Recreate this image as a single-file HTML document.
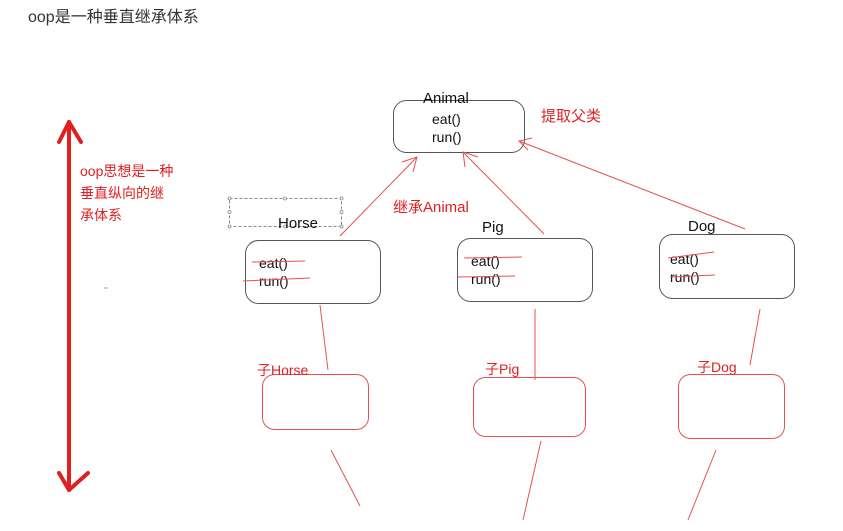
<!DOCTYPE html>
<html><head><meta charset="utf-8"><style>
html,body{margin:0;padding:0;background:#fff;}
svg{display:block;}
text{font-family:"Liberation Sans","Noto Sans CJK SC",sans-serif;}
</style></head><body>
<svg width="843" height="531" viewBox="0 0 843 531" xmlns="http://www.w3.org/2000/svg">
<text x="28" y="22" font-size="16" fill="#333">oop是一种垂直继承体系</text>

<!-- big left arrow -->
<g stroke="#e02020" stroke-width="4" fill="none" stroke-linecap="round" stroke-linejoin="round">
<line x1="69" y1="122" x2="69" y2="490"/>
<polyline points="59,142 69,122 81,142"/>
<polyline points="59,473 69,490 88,473"/>
</g>
<g font-size="14" fill="#e02020">
<text x="80" y="176">oop思想是一种</text>
<text x="80" y="198">垂直纵向的继</text>
<text x="80" y="220">承体系</text>
</g>
<line x1="104" y1="288" x2="108" y2="288" stroke="#e88" stroke-width="1"/>

<!-- Animal -->
<rect x="393.5" y="100.5" width="131" height="52" rx="13" fill="none" stroke="#555"/>
<text x="423" y="103" font-size="15" fill="#111">Animal</text>
<text x="432" y="124" font-size="14" fill="#111">eat()</text>
<text x="432" y="142" font-size="14" fill="#111">run()</text>
<text x="541" y="121" font-size="15" fill="#e02020">提取父类</text>
<text x="393" y="212" font-size="15" fill="#e02020">继承Animal</text>

<!-- dashed selection -->
<rect x="229.5" y="198.5" width="112" height="28" fill="none" stroke="#888" stroke-dasharray="3,2"/>
<g fill="#fff" stroke="#888" stroke-width="0.8">
<circle cx="229.5" cy="198.5" r="1.5"/><circle cx="285" cy="198.5" r="1.5"/><circle cx="341.5" cy="198.5" r="1.5"/>
<circle cx="229.5" cy="212" r="1.5"/><circle cx="341.5" cy="212" r="1.5"/>
<circle cx="229.5" cy="226.5" r="1.5"/><circle cx="285" cy="226.5" r="1.5"/><circle cx="341.5" cy="226.5" r="1.5"/>
</g>

<!-- Horse -->
<text x="278" y="228" font-size="15" fill="#111">Horse</text>
<rect x="245.5" y="240.5" width="135" height="63" rx="13" fill="none" stroke="#555"/>
<text x="259" y="268" font-size="14" fill="#111">eat()</text>
<text x="259" y="286" font-size="14" fill="#111">run()</text>
<!-- Pig -->
<text x="482" y="232" font-size="15" fill="#111">Pig</text>
<rect x="457.5" y="238.5" width="135" height="63" rx="13" fill="none" stroke="#555"/>
<text x="471" y="266" font-size="14" fill="#111">eat()</text>
<text x="471" y="284" font-size="14" fill="#111">run()</text>
<!-- Dog -->
<text x="688" y="231" font-size="15" fill="#111">Dog</text>
<rect x="659.5" y="234.5" width="135" height="64" rx="13" fill="none" stroke="#555"/>
<text x="670" y="264" font-size="14" fill="#111">eat()</text>
<text x="670" y="282" font-size="14" fill="#111">run()</text>

<g stroke="#e85050" stroke-width="1" fill="none">
<!-- strike lines -->
<line x1="252" y1="262" x2="305" y2="261"/>
<line x1="243" y1="281" x2="310" y2="278"/>
<line x1="464" y1="258" x2="522" y2="257"/>
<line x1="457" y1="277" x2="515" y2="276"/>
<line x1="668" y1="258" x2="714" y2="252"/>
<line x1="670" y1="277" x2="715" y2="275"/>
<!-- arrows -->
<line x1="340" y1="236" x2="417" y2="157"/>
<polyline points="402,162 417,157 413,172"/>
<line x1="544" y1="234" x2="463" y2="152"/>
<polyline points="465,167 463,152 478,157"/>
<line x1="745" y1="229" x2="519" y2="141"/>
<polyline points="532,138 519,141 528,150"/>
<!-- child connectors -->
<line x1="320" y1="305" x2="328" y2="370"/>
<line x1="535" y1="309" x2="535" y2="380"/>
<line x1="760" y1="309" x2="750" y2="365"/>
<line x1="331" y1="450" x2="360" y2="506"/>
<line x1="541" y1="441" x2="523" y2="520"/>
<line x1="716" y1="450" x2="688" y2="520"/>
<!-- child boxes -->
<rect x="262.5" y="374.5" width="106" height="55" rx="12"/>
<rect x="473.5" y="377.5" width="112" height="59" rx="12"/>
<rect x="678.5" y="374.5" width="106" height="64" rx="12"/>
</g>
<g font-size="14" fill="#e02020">
<text x="257" y="375">子Horse</text>
<text x="485" y="374">子Pig</text>
<text x="697" y="372">子Dog</text>
</g>
</svg>
</body></html>
